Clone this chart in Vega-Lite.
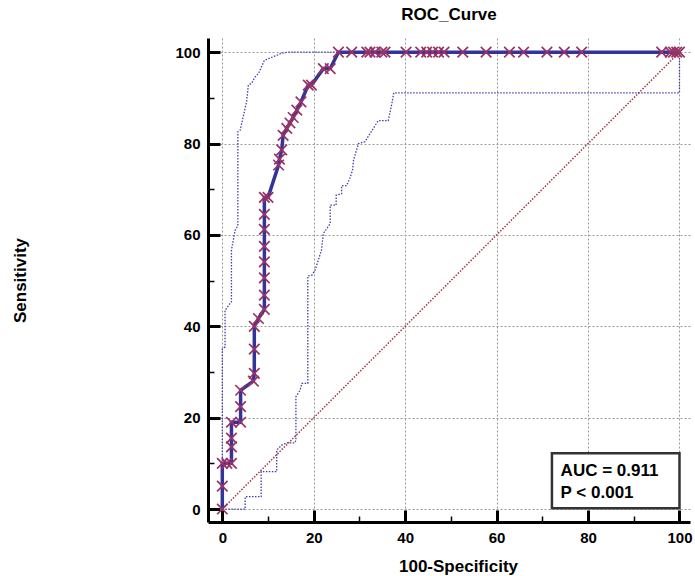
{
  "$schema": "https://vega.github.io/schema/vega-lite/v6.json",
  "width": 482,
  "height": 484,
  "autosize": "none",
  "padding": {"left": 208, "top": 38, "right": 5, "bottom": 54},
  "background": "white",
  "title": {"text": "ROC_Curve", "font": "Liberation Sans", "fontSize": 17, "fontWeight": "bold", "color": "black", "anchor": "middle", "offset": 14},
  "config": {"view": {"stroke": null}, "font": "Liberation Sans"},
  "datasets": {
    "diag": [{"x": 0, "y": 0}, {"x": 100, "y": 100}],
    "upper": [
      {"k": 0, "x": 0, "y": 0}, {"k": 1, "x": 0, "y": 35}, {"k": 2, "x": 0.6, "y": 35.5}, {"k": 3, "x": 0.6, "y": 43.5},
      {"k": 4, "x": 2.0, "y": 45.4}, {"k": 5, "x": 2.0, "y": 56.7}, {"k": 6, "x": 2.8, "y": 61}, {"k": 7, "x": 3.4, "y": 62},
      {"k": 8, "x": 3.4, "y": 82.6}, {"k": 9, "x": 3.9, "y": 82.9}, {"k": 10, "x": 5.3, "y": 89.1}, {"k": 11, "x": 5.7, "y": 92.8},
      {"k": 12, "x": 6.4, "y": 93.2}, {"k": 13, "x": 7.2, "y": 94.6}, {"k": 14, "x": 7.9, "y": 95.3}, {"k": 15, "x": 9.2, "y": 98.2},
      {"k": 16, "x": 10.1, "y": 98.6}, {"k": 17, "x": 11.9, "y": 99.3}, {"k": 18, "x": 13, "y": 99.8}, {"k": 19, "x": 14.5, "y": 100},
      {"k": 20, "x": 100, "y": 100}
    ],
    "lower": [
      {"k": 0, "x": 0, "y": 0}, {"k": 1, "x": 5, "y": 0}, {"k": 2, "x": 5, "y": 2.7}, {"k": 3, "x": 8.5, "y": 2.7},
      {"k": 4, "x": 8.5, "y": 8.2}, {"k": 5, "x": 11.9, "y": 8.2}, {"k": 6, "x": 11.9, "y": 12.9}, {"k": 7, "x": 13, "y": 14},
      {"k": 8, "x": 14.1, "y": 14.5}, {"k": 9, "x": 15.9, "y": 14.5}, {"k": 10, "x": 16.1, "y": 15.1}, {"k": 11, "x": 16.1, "y": 24.6},
      {"k": 12, "x": 17, "y": 26}, {"k": 13, "x": 17.4, "y": 27.5}, {"k": 14, "x": 18.7, "y": 27.5}, {"k": 15, "x": 18.7, "y": 51},
      {"k": 16, "x": 19.6, "y": 51.2}, {"k": 17, "x": 20.3, "y": 52.3}, {"k": 18, "x": 21.7, "y": 56.7}, {"k": 19, "x": 22.1, "y": 60.3},
      {"k": 20, "x": 23.6, "y": 62.5}, {"k": 21, "x": 23.6, "y": 66.5}, {"k": 22, "x": 24.9, "y": 66.5}, {"k": 23, "x": 24.9, "y": 68.7},
      {"k": 24, "x": 26.1, "y": 69}, {"k": 25, "x": 26.1, "y": 70.8}, {"k": 26, "x": 27.2, "y": 70.8}, {"k": 27, "x": 27.9, "y": 72.4},
      {"k": 28, "x": 28.5, "y": 74.2}, {"k": 29, "x": 28.7, "y": 76.4}, {"k": 30, "x": 29.8, "y": 80}, {"k": 31, "x": 31.2, "y": 80.4},
      {"k": 32, "x": 34.1, "y": 85}, {"k": 33, "x": 36.3, "y": 85}, {"k": 34, "x": 37.1, "y": 88.8}, {"k": 35, "x": 37.5, "y": 91.1},
      {"k": 36, "x": 100, "y": 91.1}, {"k": 37, "x": 100, "y": 100}
    ],
    "roc": [
      {"k": 0, "x": 0, "y": 0}, {"k": 1, "x": 0, "y": 5}, {"k": 2, "x": 0, "y": 10}, {"k": 3, "x": 1, "y": 10},
      {"k": 4, "x": 2, "y": 10}, {"k": 5, "x": 2, "y": 13.6}, {"k": 6, "x": 2, "y": 15.5}, {"k": 7, "x": 2, "y": 19},
      {"k": 8, "x": 4, "y": 19}, {"k": 9, "x": 4, "y": 22.4}, {"k": 10, "x": 4, "y": 26}, {"k": 11, "x": 6.8, "y": 28},
      {"k": 12, "x": 7, "y": 29.7}, {"k": 13, "x": 7, "y": 35}, {"k": 14, "x": 7, "y": 40}, {"k": 15, "x": 7.9, "y": 41.7},
      {"k": 16, "x": 9.2, "y": 43.7}, {"k": 17, "x": 9.2, "y": 46.8}, {"k": 18, "x": 9.2, "y": 50.6}, {"k": 19, "x": 9.2, "y": 54.1},
      {"k": 20, "x": 9.2, "y": 57.5}, {"k": 21, "x": 9.2, "y": 61.2}, {"k": 22, "x": 9.2, "y": 64.5}, {"k": 23, "x": 9.2, "y": 68.2},
      {"k": 24, "x": 10, "y": 68.2}, {"k": 25, "x": 12.3, "y": 75.3}, {"k": 26, "x": 12.5, "y": 76.6}, {"k": 27, "x": 13, "y": 78.6},
      {"k": 28, "x": 13.3, "y": 81.8}, {"k": 29, "x": 14.1, "y": 83.3}, {"k": 30, "x": 14.8, "y": 84.5}, {"k": 31, "x": 15.5, "y": 85.7},
      {"k": 32, "x": 16.3, "y": 87.3}, {"k": 33, "x": 17.2, "y": 89.1}, {"k": 34, "x": 18.8, "y": 92.8}, {"k": 35, "x": 19.5, "y": 92.8},
      {"k": 36, "x": 22.1, "y": 96.4}, {"k": 37, "x": 23.6, "y": 96.4}, {"k": 38, "x": 25.4, "y": 100}, {"k": 39, "x": 28.3, "y": 100},
      {"k": 40, "x": 31.6, "y": 100}, {"k": 41, "x": 32.3, "y": 100}, {"k": 42, "x": 33.4, "y": 100}, {"k": 43, "x": 34.9, "y": 100},
      {"k": 44, "x": 35.6, "y": 100}, {"k": 45, "x": 40.2, "y": 100}, {"k": 46, "x": 43.4, "y": 100}, {"k": 47, "x": 44.7, "y": 100},
      {"k": 48, "x": 46.0, "y": 100}, {"k": 49, "x": 47.3, "y": 100}, {"k": 50, "x": 48.5, "y": 100}, {"k": 51, "x": 52.6, "y": 100},
      {"k": 52, "x": 57.7, "y": 100}, {"k": 53, "x": 62.8, "y": 100}, {"k": 54, "x": 65.9, "y": 100}, {"k": 55, "x": 71.0, "y": 100},
      {"k": 56, "x": 74.8, "y": 100}, {"k": 57, "x": 78.6, "y": 100}, {"k": 58, "x": 96.1, "y": 100}, {"k": 59, "x": 98.0, "y": 100},
      {"k": 60, "x": 98.7, "y": 100}, {"k": 61, "x": 99.4, "y": 100}, {"k": 62, "x": 100, "y": 100}
    ]
  },
  "layer": [
    {
      "data": {"name": "diag"},
      "mark": {"type": "line", "color": "#a33a3a", "strokeWidth": 1.5, "strokeDash": [1.5, 1.5]},
      "encoding": {
        "x": {
          "field": "x", "type": "quantitative",
          "scale": {"domain": [-3.13, 102.3], "nice": false, "zero": false},
          "axis": {
            "title": "100-Specificity",
            "values": [0, 5, 10, 15, 20, 25, 30, 35, 40, 45, 50, 55, 60, 65, 70, 75, 80, 85, 90, 95, 100],
            "labelExpr": "datum.value % 20 === 0 ? datum.label : ''",
            "labelOverlap": false, "labelFlush": false,
            "labelFont": "Liberation Sans", "labelFontSize": 15, "labelFontWeight": "bold", "labelColor": "black",
            "labelPadding": 20,
            "titleFont": "Liberation Sans", "titleFontSize": 17, "titleFontWeight": "bold", "titleColor": "black",
            "titlePadding": 7, "titleX": 250, "titleAlign": "center",
            "domainColor": "black", "domainWidth": 3,
            "tickColor": "black",
            "tickWidth": {"condition": {"test": "datum.value % 20 === 0", "value": 3}, "value": 1.5},
            "tickSize": {"condition": {"test": "datum.value % 20 === 0", "value": -12}, "value": -6},
            "grid": true, "gridColor": "#999999", "gridDash": [2, 2], "gridWidth": 1,
            "gridOpacity": {"condition": {"test": "datum.value % 20 === 0", "value": 1}, "value": 0}
          }
        },
        "y": {
          "field": "y", "type": "quantitative",
          "scale": {"domain": [-2.84, 103.1], "nice": false, "zero": false},
          "axis": {
            "title": "Sensitivity",
            "values": [0, 5, 10, 15, 20, 25, 30, 35, 40, 45, 50, 55, 60, 65, 70, 75, 80, 85, 90, 95, 100],
            "labelExpr": "datum.value % 20 === 0 ? datum.label : ''",
            "labelOverlap": false, "labelFlush": false,
            "labelFont": "Liberation Sans", "labelFontSize": 15, "labelFontWeight": "bold", "labelColor": "black",
            "labelPadding": 20,
            "titleFont": "Liberation Sans", "titleFontSize": 17, "titleFontWeight": "bold", "titleColor": "black",
            "titleX": -188, "titleY": 242, "titleAngle": -90, "titleAlign": "center", "titleBaseline": "middle",
            "domainColor": "black", "domainWidth": 3,
            "tickColor": "black",
            "tickWidth": {"condition": {"test": "datum.value % 20 === 0", "value": 3}, "value": 1.5},
            "tickSize": {"condition": {"test": "datum.value % 20 === 0", "value": -12}, "value": -6},
            "grid": true, "gridColor": "#999999", "gridDash": [2, 2], "gridWidth": 1,
            "gridOpacity": {"condition": {"test": "datum.value % 20 === 0", "value": 1}, "value": 0}
          }
        }
      }
    },
    {
      "data": {"name": "upper"},
      "mark": {"type": "line", "color": "#4040aa", "strokeWidth": 1.3, "strokeDash": [1.5, 1.5]},
      "encoding": {
        "x": {"field": "x", "type": "quantitative"},
        "y": {"field": "y", "type": "quantitative"},
        "order": {"field": "k", "type": "quantitative"}
      }
    },
    {
      "data": {"name": "lower"},
      "mark": {"type": "line", "color": "#4040aa", "strokeWidth": 1.3, "strokeDash": [1.5, 1.5]},
      "encoding": {
        "x": {"field": "x", "type": "quantitative"},
        "y": {"field": "y", "type": "quantitative"},
        "order": {"field": "k", "type": "quantitative"}
      }
    },
    {
      "data": {"name": "roc"},
      "mark": {"type": "line", "color": "#333399", "strokeWidth": 3.5},
      "encoding": {
        "x": {"field": "x", "type": "quantitative"},
        "y": {"field": "y", "type": "quantitative"},
        "order": {"field": "k", "type": "quantitative"}
      }
    },
    {
      "data": {"name": "roc"},
      "mark": {"type": "point", "shape": "M-1,-1L1,1M1,-1L-1,1", "filled": false, "stroke": "#993366", "strokeWidth": 1.7, "size": 110, "opacity": 1},
      "encoding": {
        "x": {"field": "x", "type": "quantitative"},
        "y": {"field": "y", "type": "quantitative"}
      }
    },
    {
      "data": {"values": [{}]},
      "mark": {"type": "rect", "fill": "white", "stroke": "#333333", "strokeWidth": 2.5},
      "encoding": {
        "x": {"datum": 72.1}, "x2": {"datum": 100},
        "y": {"datum": 0.15}, "y2": {"datum": 12.2}
      }
    },
    {
      "data": {"values": [{}]},
      "mark": {"type": "text", "font": "Liberation Sans", "fontSize": 17, "fontWeight": "bold", "color": "black", "align": "left", "baseline": "middle"},
      "encoding": {
        "x": {"datum": 74.0}, "y": {"datum": 8.4},
        "text": {"value": "AUC = 0.911"}
      }
    },
    {
      "data": {"values": [{}]},
      "mark": {"type": "text", "font": "Liberation Sans", "fontSize": 17, "fontWeight": "bold", "color": "black", "align": "left", "baseline": "middle"},
      "encoding": {
        "x": {"datum": 74.0}, "y": {"datum": 3.6},
        "text": {"value": "P < 0.001"}
      }
    }
  ]
}
